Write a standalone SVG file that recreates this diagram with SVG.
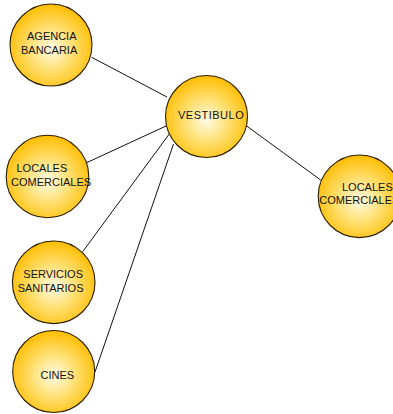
<svg xmlns="http://www.w3.org/2000/svg" width="393" height="414" viewBox="0 0 393 414">
  <defs>
    <radialGradient id="bubble" cx="50%" cy="55%" r="55%">
      <stop offset="0" stop-color="#fffbe6"/>
      <stop offset="0.45" stop-color="#ffe27a"/>
      <stop offset="1" stop-color="#ffbd00"/>
    </radialGradient>
  </defs>
  <style>
    .node circle { fill: url(#bubble); stroke: #2a1e00; stroke-width: 1.1; }
    .node text { font-family: "Liberation Sans", "DejaVu Sans", sans-serif; font-size: 11px; fill: #111; }
    .links line { stroke: #111; stroke-width: 1; }
  </style>
  <rect width="393" height="414" fill="#ffffff"/>

  <g class="links">
    <line x1="91.7" y1="57.3" x2="167" y2="97"/>
    <line x1="86.7" y1="162.7" x2="166" y2="126"/>
    <line x1="82.7" y1="251.7" x2="170" y2="133"/>
    <line x1="95" y1="372" x2="173.5" y2="144"/>
    <line x1="246.7" y1="126" x2="320.7" y2="180"/>
  </g>

  <g id="agencia-bancaria" class="node">
    <circle cx="51" cy="45" r="41"/>
    <text x="27" y="40">AGENCIA</text>
    <text x="21" y="53.5">BANCARIA</text>
  </g>

  <g id="vestibulo" class="node">
    <circle cx="206.5" cy="116.5" r="41"/>
    <text x="178" y="119" letter-spacing="0.5">VESTIBULO</text>
  </g>

  <g id="locales-comerciales-1" class="node">
    <circle cx="47.5" cy="176.5" r="41.3"/>
    <text x="16.5" y="171.7">LOCALES</text>
    <text x="11" y="185.7">COMERCIALES</text>
  </g>

  <g id="locales-comerciales-2" class="node">
    <circle cx="359.5" cy="196.3" r="41.3"/>
    <text x="342" y="190.7">LOCALES</text>
    <text x="319.3" y="204.3">COMERCIALES</text>
  </g>

  <g id="servicios-sanitarios" class="node">
    <circle cx="53.7" cy="282.3" r="41.3"/>
    <text x="23.3" y="277.7">SERVICIOS</text>
    <text x="17.7" y="292.3">SANITARIOS</text>
  </g>

  <g id="cines" class="node">
    <circle cx="53.7" cy="371.5" r="41"/>
    <text x="40.5" y="379.3">CINES</text>
  </g>
</svg>
